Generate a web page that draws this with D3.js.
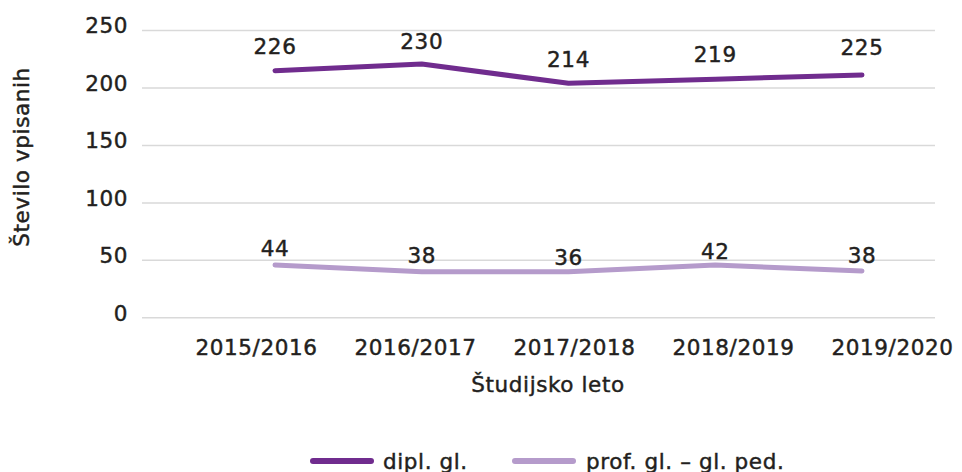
<!DOCTYPE html>
<html>
<head>
<meta charset="utf-8">
<script src="https://cdn.jsdelivr.net/npm/d3@7"></script>
<style>
    body { margin: 0; background: #fff; }
    text { font-family: "DejaVu Sans", sans-serif; fill: #231f20; stroke: #231f20; stroke-width: 0.45px;
           font-size: 21.5px; letter-spacing: 0.6px; }
</style>
</head>
<body>
<svg id="chart" width="962" height="472"></svg>
<script>
// DATA
const years = ["2015/2016", "2016/2017", "2017/2018", "2018/2019", "2019/2020"];
const seriesNames = ["dipl. gl.", "prof. gl. – gl. ped."];
// printed values above each point
const diplValues = [226, 230, 214, 219, 225];
const profValues = [44, 38, 36, 42, 38];
// height where the lines are drawn in the picture (they sit below the printed values)
const diplLine = [214.6, 220.4, 203.6, 207.2, 210.8];
const profLine = [45.5, 39.7, 39.7, 45.5, 40.3];
const yTicks = [0, 50, 100, 150, 200, 250];

const colors = ["#702c8e", "#b59bcb"];

const svg = d3.select("#chart");
const plotLeft = 142, plotRight = 935, plotTop = 30, plotBottom = 317.3;

const y = d3.scaleLinear().domain([0, 250]).range([plotBottom, plotTop]);
// points of the lines
const x = d3.scalePoint().domain(years).range([275, 862]);
// category labels under the plot
const xLab = d3.scalePoint().domain(years).range([256, 892]);

// y axis + gridlines
const yAxis = svg.append("g")
    .attr("transform", `translate(${plotLeft},0)`)
    .call(d3.axisLeft(y).tickValues(yTicks).tickSize(-(plotRight - plotLeft)).tickPadding(14));
yAxis.select(".domain").remove();
yAxis.selectAll(".tick line").attr("stroke", "#d9d9d9").attr("stroke-width", 1.5);
yAxis.selectAll(".tick text").attr("dy", "0.13em").attr("fill", null).style("font-size", "21.5px");

// x axis labels
const xAxis = svg.append("g")
    .attr("transform", `translate(0,${plotBottom})`)
    .call(d3.axisBottom(xLab).tickSize(0).tickPadding(0));
xAxis.select(".domain").remove();
xAxis.selectAll(".tick text").attr("y", 38).attr("dy", 0).attr("fill", null).style("font-size", "21.5px");

// axis titles
svg.append("text")
    .attr("transform", "translate(29,157) rotate(-90)")
    .attr("text-anchor", "middle")
    .text("Število vpisanih");

svg.append("text")
    .attr("x", 548)
    .attr("y", 392)
    .attr("text-anchor", "middle")
    .text("Študijsko leto");

// lines
const line = d3.line()
    .x((d, i) => x(years[i]))
    .y(d => y(d));

const series = [
    { line: diplLine, values: diplValues, color: colors[0], labelOffset: 4 },
    { line: profLine, values: profValues, color: colors[1], labelOffset: 10.5 }
];

series.forEach(s => {
    svg.append("path")
        .datum(s.line)
        .attr("fill", "none")
        .attr("stroke", s.color)
        .attr("stroke-width", 5)
        .attr("stroke-linecap", "round")
        .attr("stroke-linejoin", "round")
        .attr("d", line);

    svg.selectAll(null)
        .data(s.values)
        .enter().append("text")
        .attr("x", (d, i) => x(years[i]))
        .attr("y", d => y(d) - s.labelOffset)
        .attr("text-anchor", "middle")
        .text(d => d);
});

// legend
const legendItems = [
    { name: seriesNames[0], color: colors[0], x1: 313, x2: 371, tx: 383 },
    { name: seriesNames[1], color: colors[1], x1: 515, x2: 573, tx: 586 }
];
const legend = svg.append("g");
legendItems.forEach(d => {
    legend.append("line")
        .attr("x1", d.x1).attr("x2", d.x2)
        .attr("y1", 461).attr("y2", 461)
        .attr("stroke", d.color)
        .attr("stroke-width", 6)
        .attr("stroke-linecap", "round");
    legend.append("text")
        .attr("x", d.tx)
        .attr("y", 468.5)
        .text(d.name);
});
</script>
</body>
</html>
